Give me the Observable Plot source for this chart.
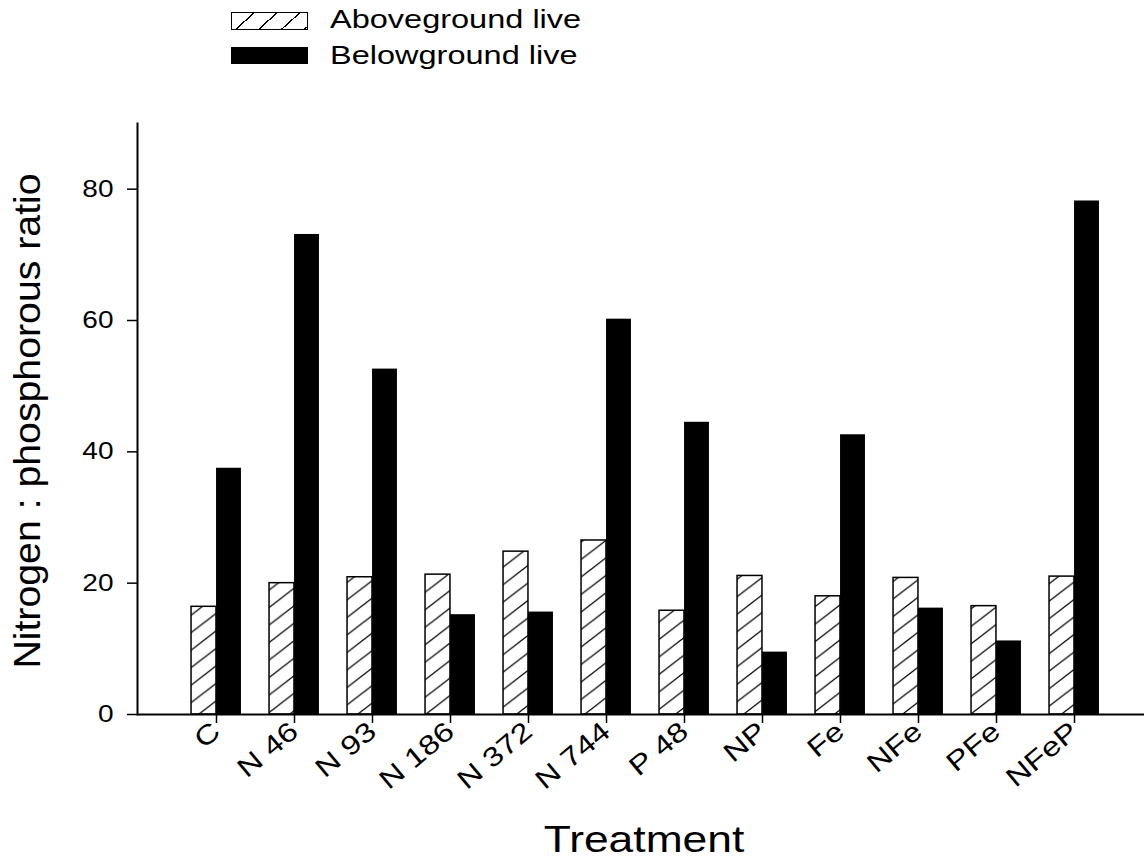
<!DOCTYPE html>
<html><head><meta charset="utf-8">
<script src="https://cdn.jsdelivr.net/npm/d3@7"></script>
<script src="https://cdn.jsdelivr.net/npm/@observablehq/plot@0.6"></script>
<style>
body{margin:0;background:#fff;font-family:"Liberation Sans",Arial,sans-serif;}
#legend{position:relative;width:1144px;height:80px;}
.sw{position:absolute;left:231px;width:77px;box-sizing:border-box;}
.lt{position:absolute;left:330px;font-size:25px;line-height:25px;transform:scaleX(1.3);transform-origin:left center;white-space:nowrap;color:#000}
#chart svg{display:block}
</style></head><body>
<div id="legend"></div>
<div id="chart"></div>
<script>
// ---- data ----
const categories = ["C","N 46","N 93","N 186","N 372","N 744","P 48","NP","Fe","NFe","PFe","NFeP"];
const aboveground = [16.4, 20.0, 20.9, 21.3, 24.8, 26.5, 15.8, 21.1, 18.0, 20.8, 16.5, 21.0];
const belowground = [37.5, 73.1, 52.6, 15.2, 15.6, 60.2, 44.5, 9.5, 42.6, 16.2, 11.2, 78.2];
const seriesNames = ["Aboveground live", "Belowground live"];
const yTicks = [0, 20, 40, 60, 80];
const yTitle = "Nitrogen : phosphorous ratio";
const xTitle = "Treatment";

// ---- legend ----
const legend = document.getElementById("legend");
const hatchCss = "repeating-linear-gradient(138deg,#fff 0 14px,#000 14px 15.3px)";
legend.innerHTML =
  `<div class="sw" style="top:12px;height:18px;border:1px solid #000;background:${hatchCss};"></div>
   <div class="lt" style="top:7px">${seriesNames[0]}</div>
   <div class="sw" style="top:47px;height:17px;background:#000"></div>
   <div class="lt" style="top:43px">${seriesNames[1]}</div>`;

// ---- chart ----
const W = 1144, H = 787;
const xRange = [176, 1113];
const step = (xRange[1] - xRange[0]) / categories.length;
const barW = 25;

const chart = Plot.plot({
  width: W, height: H,
  marginLeft: 137, marginRight: 0, marginTop: 43, marginBottom: 153,
  style: {fontFamily: '"Liberation Sans", Arial, sans-serif', color: "#000", background: "#fff", overflow: "visible"},
  x: {type: "band", domain: categories, range: xRange, padding: 0},
  y: {domain: [0, 90]},
  marks: [
    Plot.barY(aboveground, {x: (d, i) => categories[i], y: d => d, fill: "url(#hatch)", stroke: "#000", strokeWidth: 1.5,
      insetLeft: step / 2 - barW, insetRight: step / 2}),
    Plot.barY(belowground, {x: (d, i) => categories[i], y: d => d, fill: "#000",
      insetLeft: step / 2, insetRight: step / 2 - barW}),
    Plot.ruleY([0], {stroke: "#000", strokeWidth: 2}),
    Plot.frame({anchor: "left", stroke: "#000", strokeWidth: 2}),
    Plot.axisY({ticks: yTicks, tickSize: 10, tickPadding: 14, fontSize: 23, label: null, strokeWidth: 1.5}),
    Plot.axisX({tickSize: 9, tickPadding: 4, tickRotate: -40, fontSize: 27, label: null, strokeWidth: 1.5}),
    Plot.text([yTitle], {text: d => d, frameAnchor: "left", textAnchor: "middle", rotate: -90, dx: -109, dy: 2, fontSize: 36}),
    Plot.text([xTitle], {text: d => d, frameAnchor: "bottom", textAnchor: "middle", dx: 3, dy: 137, fontSize: 37})
  ]
});
document.getElementById("chart").appendChild(chart);

const ns = "http://www.w3.org/2000/svg";
const svg = chart.tagName.toLowerCase() === "svg" ? chart : chart.querySelector("svg");
const defs = document.createElementNS(ns, "defs");
defs.innerHTML = `<pattern id="hatch" patternUnits="userSpaceOnUse" width="22.7" height="17.5">
  <rect width="22.7" height="17.5" fill="#fff"/>
  <path d="M0,17.5L22.7,0M-2.27,1.75L2.27,-1.75M20.43,19.25L24.97,15.75" stroke="#000" stroke-width="1.3" fill="none"/>
</pattern>`;
svg.insertBefore(defs, svg.firstChild);

function stretch(nodes, k) {
  nodes.forEach(t => {
    const L = t.getComputedTextLength();
    t.setAttribute("textLength", (L * k).toFixed(1));
    t.setAttribute("lengthAdjust", "spacingAndGlyphs");
  });
}
stretch(svg.querySelectorAll('g[aria-label="y-axis tick label"] text'), 1.22);
stretch(svg.querySelectorAll('g[aria-label="x-axis tick label"] text'), 1.22);
svg.querySelectorAll('g[aria-label="text"] text').forEach(t => {
  stretch([t], t.textContent === yTitle ? 1.09 : 1.2);
});
</script>
</body></html>
